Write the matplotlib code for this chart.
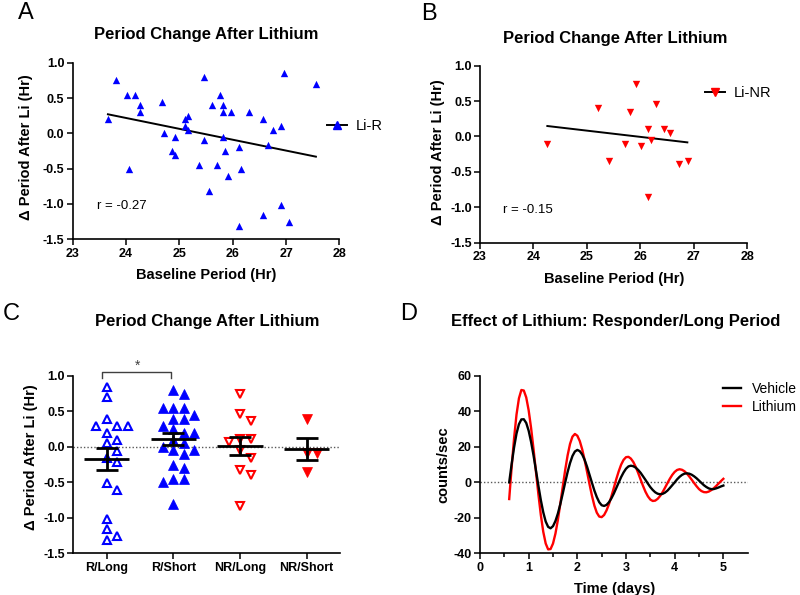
import numpy as np
import matplotlib
matplotlib.use("Agg")
import matplotlib.pyplot as plt
from matplotlib.lines import Line2D

plt.rcParams['font.family'] = ['Liberation Sans', 'DejaVu Sans']
plt.rcParams['axes.unicode_minus'] = False

# --- Panel A: responders (Li-R) ---
baseline_r = [23.66, 23.81, 24.01, 24.17, 24.26, 24.26, 24.06, 24.67, 24.71, 24.91,
              24.86, 24.91, 25.11, 25.16, 25.11, 25.16, 25.36, 25.46, 25.46, 25.56,
              25.61, 25.76, 25.81, 25.81, 25.96, 25.81, 25.86, 25.71, 25.91, 26.11,
              26.16, 26.11, 26.31, 26.56, 26.66, 26.76, 26.91, 26.96, 26.56, 26.91,
              27.06, 27.56]
change_r = [0.20, 0.75, 0.55, 0.55, 0.40, 0.30, -0.50, 0.45, 0.00, -0.05,
            -0.25, -0.31, 0.20, 0.25, 0.10, 0.05, -0.45, 0.80, -0.10, -0.81,
            0.40, 0.55, 0.40, 0.30, 0.30, -0.05, -0.25, -0.45, -0.60, -0.20,
            -0.50, -1.31, 0.30, 0.20, -0.16, 0.05, 0.10, 0.85, -1.16, -1.01,
            -1.26, 0.70]
fit_r_x = [23.66, 27.56]
fit_r_y = [0.27, -0.33]

# --- Panel B: non-responders (Li-NR) ---
baseline_nr = [24.26, 25.21, 25.41, 25.81, 25.92, 25.71, 26.01, 26.15, 26.20, 26.15,
               26.30, 26.45, 26.55, 26.72, 26.90]
change_nr = [-0.10, 0.40, -0.35, 0.35, 0.74, -0.10, -0.14, 0.10, -0.05, -0.85,
             0.46, 0.10, 0.05, -0.39, -0.35]
fit_nr_x = [24.26, 26.88]
fit_nr_y = [0.148, -0.083]

# --- Panel C: groups ---
groups = ["R/Long", "R/Short", "NR/Long", "NR/Short"]
r_long = [0.85, 0.70, 0.39, 0.30, 0.30, 0.30, 0.20, 0.10, 0.05, -0.06,
          -0.16, -0.21, -0.51, -0.61, -1.01, -1.16, -1.26, -1.31]
r_short = [0.80, 0.75, 0.55, 0.55, 0.55, 0.45, 0.40, 0.40, 0.30, 0.25,
           0.20, 0.20, 0.10, 0.05, 0.00, -0.05, -0.05, -0.10, -0.25, -0.30,
           -0.45, -0.45, -0.50, -0.80]
nr_long = [0.74, 0.47, 0.37, 0.11, 0.11, 0.07, -0.04, -0.15, -0.33, -0.39, -0.83]
nr_short = [0.40, -0.09, -0.09, -0.35]

# --- Panel D: bioluminescence traces, sampled every 0.05 day from 0.6 to 5.0 ---
vehicle = [0.0, 10.3, 19.7, 27.5, 32.8, 35.5, 35.6, 33.5, 29.1, 22.8,
           15.2, 6.7, -1.9, -10.0, -16.9, -22.1, -25.1, -25.9, -24.7, -21.8,
           -17.6, -12.3, -6.3, -0.1, 5.8, 10.9, 14.9, 17.4, 18.3, 17.6,
           15.7, 12.7, 8.8, 4.3, -0.2, -4.6, -8.3, -11.2, -12.9, -13.3,
           -12.7, -11.2, -9.0, -6.3, -3.2, -0.1, 3.0, 5.6, 7.7, 9.0,
           9.4, 9.1, 8.3, 7.0, 5.4, 3.4, 1.4, -0.7, -2.7, -4.3,
           -5.6, -6.4, -6.7, -6.5, -5.8, -4.7, -3.2, -1.6, 0.0, 1.7,
           3.1, 4.2, 4.9, 5.1, 4.9, 4.3, 3.4, 2.3, 1.0, -0.3,
           -1.6, -2.6, -3.4, -3.8, -3.8, -3.4, -2.9, -2.3, -1.8]
lithium = [-9.4, 8.5, 24.8, 38.2, 47.4, 52.1, 51.8, 47.9, 40.6, 30.6,
           18.7, 5.9, -6.8, -18.4, -27.9, -34.5, -37.8, -37.6, -34.5, -28.9,
           -21.2, -12.1, -2.5, 6.9, 15.2, 21.7, 25.8, 27.3, 26.3, 23.3,
           18.6, 12.6, 5.9, -1.0, -7.5, -13.1, -17.1, -19.3, -19.6, -18.4,
           -15.8, -12.3, -7.9, -3.1, 1.8, 6.2, 10.0, 12.7, 14.2, 14.4,
           13.4, 11.5, 8.7, 5.3, 1.6, -2.0, -5.3, -7.9, -9.7, -10.5,
           -10.3, -9.3, -7.7, -5.6, -3.1, -0.5, 2.0, 4.2, 5.9, 7.0,
           7.4, 7.1, 6.3, 5.0, 3.3, 1.5, -0.4, -2.2, -3.8, -4.9,
           -5.5, -5.6, -5.2, -4.4, -3.4, -2.1, -0.7, 0.7, 2.0]
days = np.linspace(0.6, 5.0, len(vehicle))

BLUE = "#0000ff"
RED = "#ff0000"


def style_axes(ax):
    for s in ["top", "right"]:
        ax.spines[s].set_visible(False)
    for s in ["left", "bottom"]:
        ax.spines[s].set_linewidth(1.2)
    ax.tick_params(width=1.1, length=4, labelsize=9, pad=2)
    for lab in ax.get_xticklabels() + ax.get_yticklabels():
        lab.set_fontweight("bold")


def swarm_offsets(vals, px_x=66.7, px_y=70.9, gap=9.5, step=5.3):
    # simple greedy beeswarm in pixel space
    xs = np.zeros(len(vals))
    placed = []
    cands = [0.0]
    for k in range(1, 12):
        cands += [k * step, -k * step]
    for i in np.argsort(-np.asarray(vals), kind="stable"):
        y = vals[i] * px_y
        for c in cands:
            if all(np.hypot(c - px, y - py) >= gap for px, py in placed):
                break
        placed.append((c, y))
        xs[i] = c / px_x
    return xs


fig = plt.figure(figsize=(8, 5.95), dpi=100)

# ---------------- A ----------------
axA = fig.add_axes([0.0909, 0.5978, 0.3333, 0.2968])
axA.scatter(baseline_r, change_r, marker="^", s=28, color=BLUE, linewidths=0, zorder=3)
axA.plot(fit_r_x, fit_r_y, color="k", lw=1.4, zorder=2)
axA.set_xlim(23, 28)
axA.set_ylim(-1.5, 1.0)
axA.set_xticks([23, 24, 25, 26, 27, 28])
axA.set_yticks([-1.5, -1.0, -0.5, 0.0, 0.5, 1.0])
axA.set_yticklabels(["-1.5", "-1.0", "-0.5", "0.0", "0.5", "1.0"])
style_axes(axA)
axA.set_xlabel("Baseline Period (Hr)", fontsize=10.5, fontweight="bold")
axA.set_ylabel("Δ Period After Li (Hr)", fontsize=10.5, fontweight="bold")
axA.xaxis.set_label_coords(0.5, -0.162)
axA.yaxis.set_label_coords(-0.148, 0.52)
axA.text(0.09, 0.19, "r = -0.27", transform=axA.transAxes, fontsize=9.5, va="center")
hA = Line2D([], [], color="k", lw=1.4, marker="^", ms=5.5, mfc=BLUE, mec=BLUE)
axA.legend([hA], ["Li-R"], loc="center left", bbox_to_anchor=(0.953, 0.64), frameon=False,
           borderpad=0, borderaxespad=0, handlelength=1.4, handletextpad=0.55, fontsize=10.5)

# ---------------- B ----------------
axB = fig.add_axes([0.600, 0.5921, 0.334, 0.2975])
axB.scatter(baseline_nr, change_nr, marker="v", s=28, color=RED, linewidths=0, zorder=3)
axB.plot(fit_nr_x, fit_nr_y, color="k", lw=1.4, zorder=2)
axB.set_xlim(23, 28)
axB.set_ylim(-1.5, 1.0)
axB.set_xticks([23, 24, 25, 26, 27, 28])
axB.set_yticks([-1.5, -1.0, -0.5, 0.0, 0.5, 1.0])
axB.set_yticklabels(["-1.5", "-1.0", "-0.5", "0.0", "0.5", "1.0"])
style_axes(axB)
axB.set_xlabel("Baseline Period (Hr)", fontsize=10.5, fontweight="bold")
axB.set_ylabel("Δ Period After Li (Hr)", fontsize=10.5, fontweight="bold")
axB.xaxis.set_label_coords(0.501, -0.164)
axB.yaxis.set_label_coords(-0.131, 0.514)
axB.text(0.087, 0.185, "r = -0.15", transform=axB.transAxes, fontsize=9.5, va="center")
hB = Line2D([], [], color="k", lw=1.4, marker="v", ms=5.5, mfc=RED, mec=RED)
axB.legend([hB], ["Li-NR"], loc="center left", bbox_to_anchor=(0.842, 0.844), frameon=False,
           borderpad=0, borderaxespad=0, handlelength=1.4, handletextpad=0.55, fontsize=10.5)

# ---------------- C ----------------
axC = fig.add_axes([0.0916, 0.0701, 0.3333, 0.298])
axC.axhline(0, color="0.35", lw=1.0, ls=(0, (1, 1.5)), zorder=1)
group_vals = [r_long, r_short, nr_long, nr_short]
group_style = [
    dict(marker="^", mfc="white", mec=BLUE, mew=1.5, ms=6),
    dict(marker="^", mfc=BLUE, mec=BLUE, mew=0.5, ms=6.8),
    dict(marker="v", mfc="white", mec=RED, mew=1.5, ms=6),
    dict(marker="v", mfc=RED, mec=RED, mew=0.5, ms=6.8),
]
for i, (vals, st) in enumerate(zip(group_vals, group_style)):
    offs = swarm_offsets(vals)
    axC.plot(i + offs, vals, ls="none", zorder=3, **st)
    v = np.asarray(vals)
    mean = v.mean()
    sem = v.std(ddof=1) / np.sqrt(len(v))
    axC.hlines(mean, i - 0.34, i + 0.34, color="k", lw=2.0, zorder=4)
    axC.errorbar(i, mean, yerr=sem, color="k", elinewidth=2.0, capsize=8, capthick=2.0,
                 zorder=4)
axC.set_xlim(-0.5, 3.5)
axC.set_ylim(-1.5, 1.0)
axC.set_xticks(range(len(groups)))
axC.set_xticklabels(groups)
axC.set_yticks([-1.5, -1.0, -0.5, 0.0, 0.5, 1.0])
axC.set_yticklabels(["-1.5", "-1.0", "-0.5", "0.0", "0.5", "1.0"])
style_axes(axC)
axC.set_ylabel("Δ Period After Li (Hr)", fontsize=10.5, fontweight="bold")
axC.yaxis.set_label_coords(-0.131, 0.54)
# significance bracket
axC.plot([-0.07, -0.07, 0.96, 0.96], [0.975, 1.05, 1.05, 0.975], color="0.25", lw=1.0,
         clip_on=False)
axC.text(0.47, 1.14, "*", ha="center", va="center", fontsize=10, color="0.25")

# ---------------- D ----------------
axD = fig.add_axes([0.600, 0.0701, 0.3346, 0.298])
axD.axhline(0, color="0.35", lw=1.0, ls=(0, (1, 1.5)), zorder=1)
axD.plot(days, vehicle, color="k", lw=1.7, label="Vehicle", zorder=3)
axD.plot(days, lithium, color=RED, lw=1.7, label="Lithium", zorder=2)
axD.set_xlim(0, 5.5)
axD.set_ylim(-40, 60)
axD.set_xticks([0, 1, 2, 3, 4, 5])
axD.set_xticks(np.arange(0.5, 5.5, 1.0), minor=True)
axD.set_yticks([-40, -20, 0, 20, 40, 60])
style_axes(axD)
axD.tick_params(which="minor", length=3, width=1.1)
axD.set_xlabel("Time (days)", fontsize=10.5, fontweight="bold")
axD.set_ylabel("counts/sec", fontsize=10.5, fontweight="bold")
axD.xaxis.set_label_coords(0.504, -0.16)
axD.yaxis.set_label_coords(-0.112, 0.498)
axD.legend(loc="center left", bbox_to_anchor=(0.907, 0.877), frameon=False, borderpad=0,
           borderaxespad=0, handlelength=1.3, handletextpad=0.8, labelspacing=0.3,
           fontsize=10)

# titles and panel letters
fig.text(0.2575, 0.9412, "Period Change After Lithium", ha="center", va="center",
         fontsize=12, fontweight="bold")
fig.text(0.769, 0.9356, "Period Change After Lithium", ha="center", va="center",
         fontsize=12, fontweight="bold")
fig.text(0.2584, 0.4593, "Period Change After Lithium", ha="center", va="center",
         fontsize=12, fontweight="bold")
fig.text(0.769, 0.4593, "Effect of Lithium: Responder/Long Period", ha="center", va="center",
         fontsize=12, fontweight="bold")
for lab, x, y in [("A", 0.0325, 0.9776), ("B", 0.536, 0.9765),
                  ("C", 0.0146, 0.4723), ("D", 0.5106, 0.4723)]:
    fig.text(x, y, lab, ha="center", va="center", fontsize=17)

fig.savefig("out.png", dpi=100)
plt.close(fig)
